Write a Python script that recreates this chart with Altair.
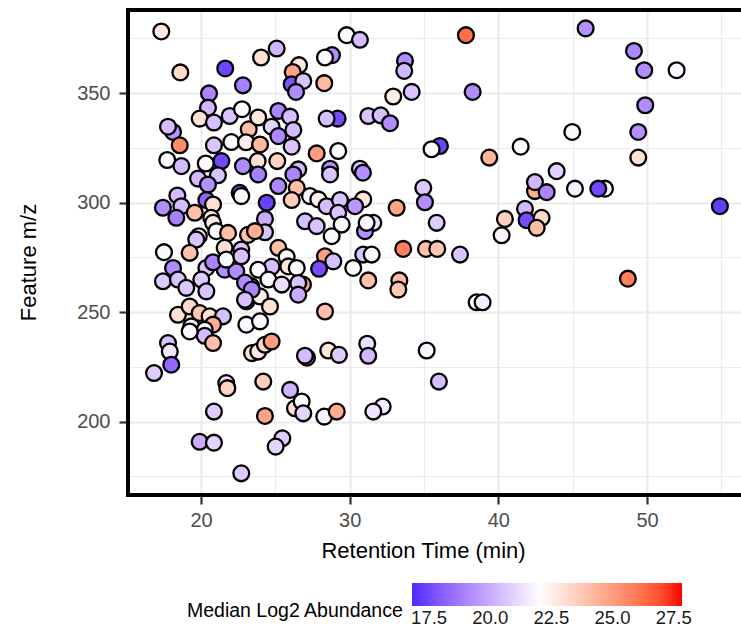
import altair as alt
import pandas as pd

rt = [17.33, 18.61, 21.63, 22.82, 20.54, 20.47, 19.91, 20.87, 21.93, 22.76, 18.12, 17.78, 18.57, 17.73, 18.68,
      20.87, 22.04, 21.37, 20.32, 23.21, 22.82, 23.03, 29.80, 30.69, 25.09, 24.04, 28.81, 28.34, 26.59, 26.17,
      26.10, 26.88, 26.39, 28.29, 25.20, 25.99, 23.85, 24.75, 26.21, 25.20, 23.97, 26.10, 23.81, 25.13, 26.54,
      29.19, 28.45, 31.25, 27.78, 29.23, 28.68, 30.69, 37.82, 33.72, 33.67, 32.93, 34.17, 38.27, 32.08, 32.71,
      36.07, 35.51, 39.39, 41.50, 43.92, 42.46, 42.46, 43.25, 30.89, 30.91, 34.95, 35.06, 33.16, 31.59, 35.85,
      31.03, 41.79, 41.90, 42.91, 40.44, 42.58, 40.22, 33.60, 35.13, 35.89, 37.42, 30.91, 31.48, 31.25, 33.34,
      33.27, 38.54, 38.94, 31.18, 31.25, 35.18, 36.00, 32.22, 31.59, 45.87, 49.12, 49.81, 51.99, 49.88, 49.41,
      44.97, 49.41, 45.15, 47.17, 46.72, 54.90, 48.71, 19.80, 21.14, 20.47, 18.41, 17.44, 18.68, 18.34, 20.36,
      20.81, 19.58, 20.69, 20.81, 21.03, 21.82, 19.85, 19.68, 19.24, 17.51, 22.60, 22.71, 23.16, 21.59, 22.71,
      18.12, 17.44, 18.45, 19.01, 20.36, 20.02, 20.36, 21.59, 22.37, 20.81, 21.70, 22.71, 23.38, 23.05, 23.05,
      18.45, 19.24, 19.91, 20.58, 21.48, 19.35, 20.81, 20.25, 23.85, 26.21, 28.68, 25.20, 26.44, 26.10, 27.33,
      27.89, 28.45, 29.35, 30.36, 24.42, 24.30, 24.30, 23.63, 27.00, 27.78, 28.79, 29.23, 29.46, 31.14, 25.20,
      28.34, 28.90, 27.94, 25.76, 25.87, 26.44, 24.75, 23.85, 24.53, 25.43, 26.86, 26.54, 26.54, 23.97, 24.64,
      23.97, 28.34, 30.24, 22.96, 23.41, 22.96, 17.78, 17.90, 18.00, 16.84, 20.25, 20.81, 19.24, 21.70, 21.77,
      20.87, 19.91, 20.87, 22.71, 23.43, 23.85, 24.30, 24.75, 27.13, 26.99, 28.56, 29.28, 24.19, 25.99, 26.32,
      26.77, 26.88, 28.29, 29.13, 24.30, 25.47, 25.02]

mz = [378.2, 359.5, 361.3, 353.6, 349.9, 343.4, 338.4, 336.6, 339.6, 342.7, 332.3, 334.7, 326.2, 319.5, 316.7,
      326.2, 327.7, 319.0, 317.9, 333.5, 316.7, 327.6, 376.5, 374.4, 370.4, 366.3, 367.4, 366.3, 362.8, 359.7,
      354.1, 355.6, 350.6, 354.6, 341.9, 339.3, 338.9, 334.7, 333.2, 330.4, 326.6, 325.6, 319.0, 319.0, 315.2,
      338.4, 338.4, 339.6, 322.5, 323.6, 315.5, 315.5, 376.5, 364.8, 360.2, 348.5, 350.6, 350.6, 339.9, 336.3,
      325.9, 324.4, 320.6, 325.6, 314.4, 305.3, 309.4, 304.8, 313.7, 301.5, 306.8, 300.2, 297.7, 290.8, 290.8,
      287.0, 297.2, 292.0, 293.1, 292.6, 288.5, 285.1, 278.9, 278.9, 278.9, 276.3, 276.3, 276.3, 264.5, 264.5,
      260.3, 254.5, 254.5, 235.6, 230.1, 232.5, 218.3, 206.9, 204.6, 379.6, 369.3, 360.5, 360.5, 344.5, 332.3,
      332.3, 320.6, 306.4, 306.4, 306.4, 298.4, 265.3, 311.0, 312.5, 308.3, 303.3, 297.7, 298.4, 293.1, 301.2,
      299.2, 295.4, 293.1, 290.8, 287.0, 286.2, 284.7, 283.2, 277.1, 277.4, 304.5, 303.0, 285.3, 279.4, 278.6,
      270.2, 264.1, 264.9, 261.1, 270.2, 264.9, 259.5, 269.4, 268.7, 272.8, 274.0, 275.5, 261.8, 254.9, 244.3,
      248.8, 252.6, 249.6, 248.1, 248.1, 243.5, 244.3, 242.0, 312.9, 312.9, 312.9, 307.6, 306.8, 301.2, 303.0,
      301.5, 298.4, 301.2, 298.4, 300.0, 292.6, 286.5, 287.0, 291.5, 289.3, 284.7, 295.4, 290.0, 290.8, 279.4,
      275.5, 273.2, 269.8, 275.2, 270.9, 270.2, 270.7, 269.4, 264.9, 262.6, 262.6, 263.3, 258.0, 257.2, 252.6,
      245.8, 250.3, 270.2, 263.5, 260.3, 255.7, 235.9, 232.0, 226.0, 222.2, 239.2, 235.9, 241.2, 217.6, 215.3,
      204.6, 190.8, 190.4, 176.4, 231.3, 232.0, 235.1, 236.6, 229.2, 230.1, 232.5, 230.5, 218.3, 214.5, 206.1,
      209.2, 203.8, 202.3, 204.6, 202.6, 192.4, 188.6]

abund = [22.7, 23.2, 17.4, 18.9, 19.0, 20.3, 23.0, 20.5, 20.6, 22.1, 19.4, 20.4, 25.5, 21.9, 20.4,
         20.6, 22.0, 17.5, 21.9, 24.0, 19.2, 22.5, 21.9, 20.4, 20.2, 23.0, 19.2, 21.9, 22.7, 24.8,
         17.8, 20.6, 19.2, 24.2, 19.0, 20.5, 22.8, 21.0, 20.4, 19.1, 24.2, 20.6, 23.0, 23.4, 20.3,
         17.6, 20.5, 20.6, 25.0, 22.0, 19.3, 20.6, 26.3, 19.2, 20.3, 22.6, 20.6, 19.2, 20.5, 19.2,
         17.4, 22.0, 24.3, 22.0, 20.9, 24.5, 20.3, 19.0, 19.3, 22.8, 20.7, 19.2, 24.8, 21.3, 20.8,
         19.3, 20.3, 17.6, 23.2, 23.5, 24.0, 21.8, 25.8, 24.0, 23.8, 20.6, 20.6, 21.8, 24.0, 24.1,
         23.8, 21.9, 21.6, 21.3, 20.3, 21.8, 20.4, 21.6, 21.4, 19.3, 19.1, 19.2, 21.9, 19.2, 19.3,
         21.9, 23.0, 21.7, 21.9, 17.5, 17.2, 25.8, 20.3, 20.6, 19.3, 20.4, 19.2, 20.4, 18.9, 18.2,
         23.0, 24.0, 22.8, 22.8, 21.9, 24.0, 22.0, 20.6, 24.0, 21.9, 17.4, 21.9, 24.0, 23.0, 20.6,
         19.2, 20.7, 20.6, 20.7, 20.6, 20.8, 20.6, 19.3, 19.2, 19.0, 21.9, 20.6, 20.5, 19.4, 21.9,
         23.0, 23.2, 23.8, 23.0, 20.5, 21.9, 24.5, 21.9, 18.9, 19.0, 20.6, 19.1, 24.0, 23.6, 21.9,
         22.5, 20.4, 20.6, 19.5, 17.3, 20.0, 20.6, 24.5, 20.5, 20.6, 21.9, 20.6, 21.9, 21.9, 24.0,
         25.0, 20.5, 17.6, 21.9, 22.7, 21.9, 20.5, 21.9, 21.9, 21.3, 25.0, 20.6, 20.0, 22.6, 23.0,
         21.9, 24.0, 21.9, 19.2, 19.0, 20.5, 20.5, 21.5, 18.3, 20.8, 20.4, 24.0, 21.9, 21.4, 23.4,
         20.8, 20.0, 21.0, 20.8, 23.0, 22.6, 23.3, 25.0, 19.5, 20.4, 22.8, 20.8, 23.6, 20.2, 22.9,
         22.0, 21.0, 21.8, 24.5, 24.8, 20.8, 21.0]

legend_ticks = [17.5, 20.0, 22.5, 25.0, 27.5]
x_ticks = [20, 25, 30, 35, 40, 45, 50, 55]
y_ticks = [175, 200, 225, 250, 275, 300, 325, 350, 375]

df = pd.DataFrame({"rt": rt, "mz": mz, "abund": abund, "order": list(range(len(rt)))})

W, H = 613, 485
FONT = "Liberation Sans"


def cond(test, a, b):
    return {"condition": {"test": test, "value": a}, "value": b}


x_axis = alt.Axis(
    values=x_ticks, title="Retention Time (min)",
    labelExpr="datum.value % 10 === 0 ? datum.label : ''",
    gridColor="#EBEBEB", gridWidth=cond("datum.value % 10 === 0", 2.2, 1.1),
    tickOpacity=cond("datum.value % 10 === 0", 1, 0),
    tickColor="#333333", tickWidth=2.2, tickSize=9, domain=False,
    labelFontSize=20, labelColor="#4D4D4D", labelPadding=6, labelFont=FONT,
    titleFontSize=22, titleFontWeight="normal", titleColor="#000000", titleFont=FONT,
    titleX=295, titleY=62, titleAlign="center", titleBaseline="alphabetic", titleAnchor="start",
)
y_axis = alt.Axis(
    values=y_ticks, title="Feature m/z",
    labelExpr="datum.value % 50 === 0 ? datum.label : ''",
    gridColor="#EBEBEB", gridWidth=cond("datum.value % 50 === 0", 2.2, 1.1),
    tickOpacity=cond("datum.value % 50 === 0", 1, 0),
    tickColor="#333333", tickWidth=2.2, tickSize=9, domain=False,
    labelFontSize=20, labelColor="#4D4D4D", labelPadding=9, labelFont=FONT,
    titleFontSize=22, titleFontWeight="normal", titleColor="#000000", titleFont=FONT,
    titleX=-93, titleY=252, titleAngle=270, titleAlign="center", titleBaseline="alphabetic", titleAnchor="start",
)

points = alt.Chart(df).mark_point(
    shape="circle", filled=True, size=250, stroke="black", strokeWidth=2.3, opacity=1
).encode(
    x=alt.X("rt:Q", scale=alt.Scale(domain=[15.09, 56.32], nice=False, zero=False), axis=x_axis),
    y=alt.Y("mz:Q", scale=alt.Scale(domain=[166.5, 388.0], nice=False, zero=False), axis=y_axis),
    fill=alt.Fill(
        "abund:Q",
        scale=alt.Scale(domain=[16.8, 22.05, 27.84], range=["#4D29FF", "#FFFFFF", "#FF0000"], interpolate="lab"),
        legend=alt.Legend(
            title="Median Log2 Abundance", orient="none", legendX=59, legendY=573,
            direction="horizontal", titleOrient="left", gradientLength=270, gradientThickness=23,
            values=legend_ticks, format=".1f", labelFontSize=18.5, labelFont=FONT, labelColor="#1A1A1A",
            titleFontSize=19.5, titleFont=FONT, titleFontWeight="normal", titleColor="#000000",
            titleAnchor="middle", titleBaseline="line-top", titleLineHeight=32, titlePadding=8,
            titleLimit=400, gradientStrokeWidth=0, labelOffset=3,
        ),
    ),
    order="order:Q",
)

one = alt.Data(values=[{"k": 1}])
left = alt.Chart(one).mark_rule(color="black", strokeWidth=4).encode(
    x=alt.value(0), y=alt.value(0), y2=alt.value(H))
top = alt.Chart(one).mark_rule(color="black", strokeWidth=4).encode(
    x=alt.value(-2), x2=alt.value(W + 10), y=alt.value(0))
bottom = alt.Chart(one).mark_rule(color="black", strokeWidth=4).encode(
    x=alt.value(-2), x2=alt.value(W + 10), y=alt.value(H))

chart = alt.layer(points, left, top, bottom).properties(
    width=W, height=H, autosize="none",
    padding={"left": 128, "top": 10, "right": 0, "bottom": 636 - 10 - H},
).configure_view(stroke=None).configure(font=FONT, background="white")

chart.save("out.html", embed_options={"renderer": "svg", "actions": False})
